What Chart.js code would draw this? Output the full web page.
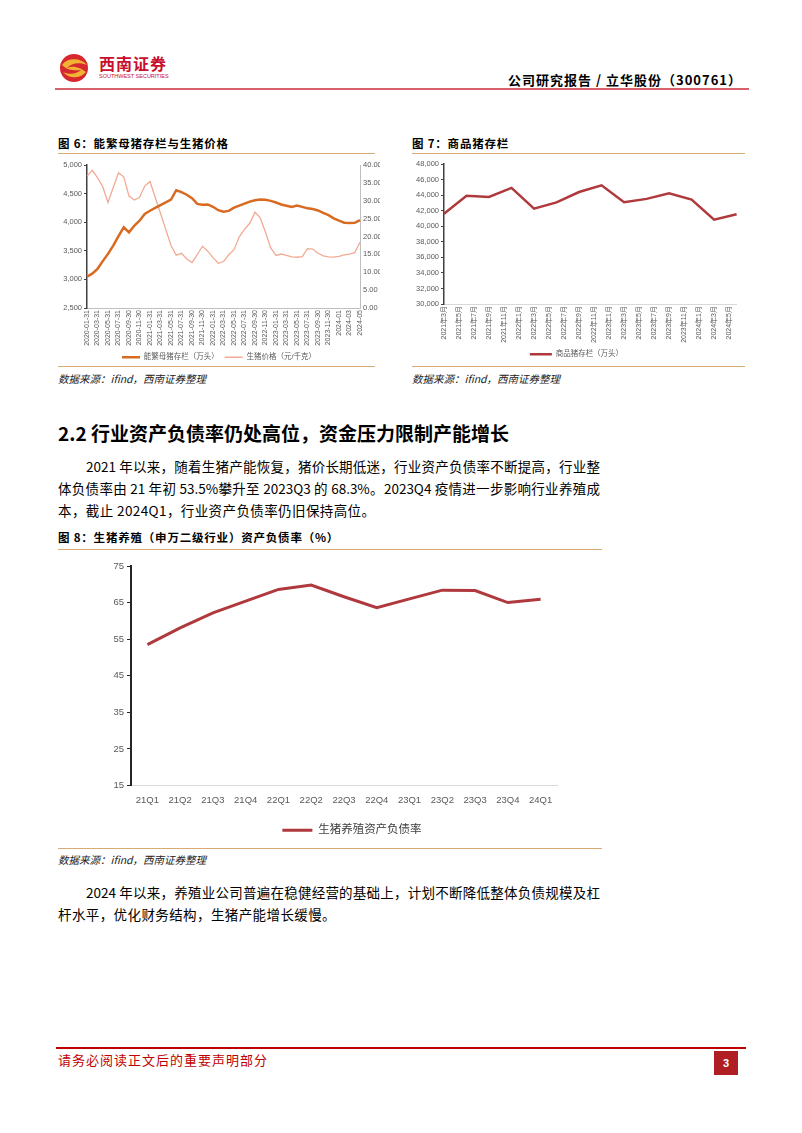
<!DOCTYPE html>
<html>
<head>
<meta charset="utf-8">
<script src="https://cdn.jsdelivr.net/npm/chart.js@4"></script>
<style>
body { margin: 0; background: #fff; }
#page { position: relative; width: 802px; height: 1133px; overflow: hidden; font-family: "Noto Sans CJK SC", sans-serif; color: #000; }
#page div, #page canvas, #page svg { position: absolute; }
.cap { font-size: 11.5px; font-weight: bold; letter-spacing: 0.8px; line-height: 14px; }
.rule { height: 1px; background: #D9AA73; }
.src { font-size: 10.5px; font-style: italic; color: #222; line-height: 14px; }
.p { font-size: 13.5px; line-height: 20px; text-align: justify; text-align-last: justify; }
.pl { font-size: 13.5px; line-height: 20px; letter-spacing: 0.4px; white-space: nowrap; }
</style>
</head>
<body>
<div id="page">
  <svg style="left:59px;top:51px" width="30" height="34" viewBox="0 0 30 34">
    <circle cx="15" cy="17" r="14" fill="#D7282F"/>
    <path d="M3 14 C9 6, 22 7, 28 14 C21 11, 12 12, 8 17 C14 14, 22 17, 27 21 C21 28, 10 28, 4 21 C10 24, 18 23, 22 19 C15 20, 8 19, 3 14Z" fill="#F2B233"/>
  </svg>
  <div style="left:99px;top:53px;font-size:16px;font-weight:bold;color:#C8102E;line-height:20px;letter-spacing:1px">西南证券</div>
  <div style="left:99px;top:73px;font-size:5.5px;color:#C8102E;line-height:7px;font-family:'Liberation Sans'">SOUTHWEST SECURITIES</div>
  <div style="right:60px;top:72px;font-size:13px;font-weight:bold;line-height:16px;letter-spacing:1px">公司研究报告 / 立华股份（300761）</div>
  <div style="left:55px;top:88px;width:694px;height:2px;background:#D7616B"></div>

  <div class="cap" style="left:58px;top:136px">图 6：能繁母猪存栏与生猪价格</div>
  <div class="rule" style="left:58px;top:153px;width:317px"></div>
  <div class="cap" style="left:412px;top:136px">图 7：商品猪存栏</div>
  <div class="rule" style="left:412px;top:153px;width:333px"></div>

  <canvas id="c6" width="322" height="216" style="left:58px;top:155px"></canvas>
  <canvas id="c7" width="335" height="213" style="left:412px;top:155px"></canvas>

  <div class="rule" style="left:58px;top:366px;width:317px"></div>
  <div class="rule" style="left:412px;top:366px;width:333px"></div>
  <div class="src" style="left:58px;top:372px">数据来源：ifind，西南证券整理</div>
  <div class="src" style="left:412px;top:372px">数据来源：ifind，西南证券整理</div>

  <div style="left:58px;top:421px;font-size:19px;font-weight:bold;line-height:24px;white-space:nowrap">2.2 行业资产负债率仍处高位，资金压力限制产能增长</div>
  <div class="p" style="left:86px;top:456px;width:514px">2021 年以来，随着生猪产能恢复，猪价长期低迷，行业资产负债率不断提高，行业整</div>
  <div class="p" style="left:58px;top:478px;width:542px">体负债率由 21 年初 53.5%攀升至 2023Q3 的 68.3%。2023Q4 疫情进一步影响行业养殖成</div>
  <div class="pl" style="left:58px;top:500px">本，截止 2024Q1，行业资产负债率仍旧保持高位。</div>

  <div class="cap" style="left:58px;top:530px">图 8：生猪养殖（申万二级行业）资产负债率（%）</div>
  <div class="rule" style="left:58px;top:549px;width:544px"></div>
  <canvas id="c8" width="544" height="294" style="left:58px;top:552px"></canvas>
  <div class="rule" style="left:58px;top:848px;width:544px"></div>
  <div class="src" style="left:58px;top:853px">数据来源：ifind，西南证券整理</div>

  <div class="p" style="left:86px;top:882px;width:514px">2024 年以来，养殖业公司普遍在稳健经营的基础上，计划不断降低整体负债规模及杠</div>
  <div class="pl" style="left:58px;top:904px">杆水平，优化财务结构，生猪产能增长缓慢。</div>

  <div style="left:56px;top:1047px;width:690px;height:2px;background:#C00000"></div>
  <div style="left:58px;top:1052px;font-size:13px;line-height:16px;letter-spacing:1px;color:#C00000">请务必阅读正文后的重要声明部分</div>
  <div style="left:714px;top:1051px;width:24px;height:24px;background:#B01E23;color:#fff;font-size:11px;font-weight:bold;line-height:24px;text-align:center;font-family:'Liberation Sans'">3</div>
</div>

<script>
// 图6 月度数据
const months6 = [
  '2020-01-31','2020-02-29','2020-03-31','2020-04-30','2020-05-31','2020-06-30','2020-07-31','2020-08-31','2020-09-30','2020-10-31','2020-11-30','2020-12-31',
  '2021-01-31','2021-02-28','2021-03-31','2021-04-30','2021-05-31','2021-06-30','2021-07-31','2021-08-31','2021-09-30','2021-10-31','2021-11-30','2021-12-31',
  '2022-01-31','2022-02-28','2022-03-31','2022-04-30','2022-05-31','2022-06-30','2022-07-31','2022-08-31','2022-09-30','2022-10-31','2022-11-30','2022-12-31',
  '2023-01-31','2023-02-28','2023-03-31','2023-04-30','2023-05-31','2023-06-30','2023-07-31','2023-08-31','2023-09-30','2023-10-31','2023-11-30','2023-12-31',
  '2024-01','2024-02','2024-03','2024-04','2024-05'
];
const sowStock = [
  3050, 3100, 3185, 3320, 3446, 3590, 3756, 3910, 3822, 3938, 4026, 4145,
  4200, 4250, 4298, 4345, 4395, 4559, 4525, 4480, 4420, 4320, 4305, 4310,
  4270, 4210, 4185, 4198, 4255, 4290, 4325, 4360, 4385, 4395, 4392, 4373,
  4345, 4310, 4287, 4265, 4290, 4268, 4242, 4230, 4205, 4162, 4124, 4066,
  4026, 3991, 3985, 3990, 4037
];
const hogPrice = [
  36.9, 38.5, 36.5, 33.9, 29.5, 33.7, 37.8, 36.7, 31.3, 30.2, 30.9, 34.1,
  35.4, 30.9, 26.5, 22.0, 17.5, 14.8, 15.3, 13.7, 12.7, 14.9, 17.3, 15.9,
  14.1, 12.5, 13.0, 14.9, 16.3, 19.9, 22.0, 23.7, 26.8, 25.2, 21.2, 16.8,
  14.7, 15.1, 14.7, 14.3, 14.2, 14.35, 16.6, 16.5, 15.3, 14.6, 14.3, 14.25,
  14.45, 14.85, 15.1, 15.5, 18.4
];

// 图7 月度坐标 + 季度数据
const months7 = [
  '2021年3月','2021年4月','2021年5月','2021年6月','2021年7月','2021年8月','2021年9月','2021年10月','2021年11月','2021年12月',
  '2022年1月','2022年2月','2022年3月','2022年4月','2022年5月','2022年6月','2022年7月','2022年8月','2022年9月','2022年10月','2022年11月','2022年12月',
  '2023年1月','2023年2月','2023年3月','2023年4月','2023年5月','2023年6月','2023年7月','2023年8月','2023年9月','2023年10月','2023年11月','2023年12月',
  '2024年1月','2024年2月','2024年3月','2024年4月','2024年5月','2024年6月'
];
const quarterMonths = ['2021年3月','2021年6月','2021年9月','2021年12月','2022年3月','2022年6月','2022年9月','2022年12月',
  '2023年3月','2023年6月','2023年9月','2023年12月','2024年3月','2024年6月'];
const hogStock = [41595, 43911, 43764, 44922, 42253, 43057, 44394, 45256, 43094, 43517, 44229, 43422, 40850, 41533];

// 图8 季度资产负债率
const quarters8 = ['21Q1','21Q2','21Q3','21Q4','22Q1','22Q2','22Q3','22Q4','23Q1','23Q2','23Q3','23Q4','24Q1'];
const debtRatio = [53.5, 58.1, 62.2, 65.4, 68.6, 69.8, 66.6, 63.6, 66.0, 68.4, 68.3, 65.0, 65.9];

Chart.defaults.font.family = '"Liberation Sans", "Noto Sans CJK SC", sans-serif';
Chart.defaults.color = '#595959';

const leftAxis = (min, max, step, size, width) => ({
  min: min, max: max,
  ticks: { stepSize: step, font: { size: size }, padding: 2 },
  grid: { drawOnChartArea: false, tickLength: 3, color: '#404040' },
  border: { color: '#404040', width: 1.5 },
  afterFit: s => { s.width = width; }
});

new Chart(document.getElementById('c6'), {
  type: 'line',
  data: {
    labels: months6,
    datasets: [
      { label: '能繁母猪存栏（万头）', data: sowStock, yAxisID: 'y', borderColor: '#D86A22', borderWidth: 2.5, pointRadius: 0 },
      { label: '生猪价格（元/千克）', data: hogPrice, yAxisID: 'y1', borderColor: '#F2AA93', borderWidth: 1.3, pointRadius: 0 }
    ]
  },
  options: {
    responsive: false,
    animation: false,
    layout: { padding: { top: 10 } },
    plugins: {
      tooltip: { enabled: false },
      legend: {
        position: 'bottom',
        labels: { usePointStyle: true, pointStyle: 'line', pointStyleWidth: 18, font: { size: 7.5 }, padding: 6 }
      }
    },
    scales: {
      x: {
        grid: { display: false, drawTicks: false },
        border: { color: '#BFBFBF' },
        ticks: { autoSkip: false, minRotation: 90, maxRotation: 90, font: { size: 7 }, padding: 2,
          callback: (v, i) => i % 2 === 0 ? months6[i] : '' },
        afterFit: s => { s.height = 39.5; }
      },
      y: leftAxis(2500, 5000, 500, 7.5, 29),
      y1: {
        position: 'right', min: 0, max: 40,
        ticks: { stepSize: 5, font: { size: 7.5 }, padding: 3, callback: v => v.toFixed(2) },
        grid: { display: false, drawTicks: false },
        border: { color: '#BFBFBF' },
        afterFit: s => { s.width = 20; }
      }
    }
  }
});

new Chart(document.getElementById('c7'), {
  type: 'line',
  data: {
    labels: months7,
    datasets: [
      { label: '商品猪存栏（万头）', data: quarterMonths.map((m, i) => ({ x: m, y: hogStock[i] })),
        borderColor: '#B0393E', borderWidth: 2.5, pointRadius: 0 }
    ]
  },
  options: {
    responsive: false,
    animation: false,
    layout: { padding: { top: 9, right: 6 } },
    plugins: {
      tooltip: { enabled: false },
      legend: {
        position: 'bottom',
        labels: { usePointStyle: true, pointStyle: 'line', pointStyleWidth: 22, font: { size: 7.5 }, padding: 6 }
      }
    },
    scales: {
      x: {
        grid: { display: false, drawTicks: false },
        border: { color: '#D9D9D9' },
        ticks: { autoSkip: false, minRotation: 90, maxRotation: 90, font: { size: 7 }, padding: 2,
          callback: (v, i) => i % 2 === 0 ? months7[i] : '' },
        afterFit: s => { s.height = 40.5; }
      },
      y: leftAxis(30000, 48000, 2000, 7.5, 32)
    }
  }
});

new Chart(document.getElementById('c8'), {
  type: 'line',
  data: {
    labels: quarters8,
    datasets: [
      { label: '生猪养殖资产负债率', data: debtRatio, borderColor: '#B0393E', borderWidth: 3, pointRadius: 0 }
    ]
  },
  options: {
    responsive: false,
    animation: false,
    layout: { padding: { top: 14, left: 44 } },
    plugins: {
      tooltip: { enabled: false },
      legend: {
        position: 'bottom',
        labels: { usePointStyle: true, pointStyle: 'line', pointStyleWidth: 30, font: { size: 11.5 }, color: '#404040', padding: 10 }
      }
    },
    scales: {
      x: {
        offset: true,
        grid: { display: false, drawTicks: false },
        border: { color: '#D9D9D9' },
        ticks: { font: { size: 9.5 }, padding: 9 },
        afterFit: s => { s.height = 29; }
      },
      y: {
        min: 15, max: 75,
        ticks: { stepSize: 10, font: { size: 9.5 }, padding: 3 },
        grid: { drawOnChartArea: false, tickLength: 4, color: '#262626' },
        border: { color: '#262626', width: 2 },
        afterFit: s => { s.width = 29; }
      },
      // empty right-hand space so the legend centres like the original
      yPad: {
        position: 'right',
        ticks: { display: false },
        grid: { display: false, drawTicks: false },
        border: { display: false },
        afterFit: s => { s.width = 45; }
      }
    }
  }
});
</script>
</body>
</html>
